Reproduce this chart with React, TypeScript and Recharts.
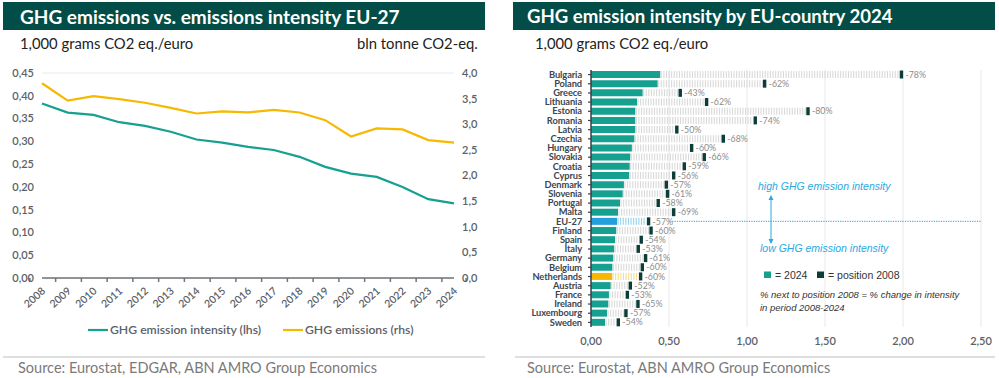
import React from 'react';
import { ComposedChart, Line, XAxis, YAxis, CartesianGrid, BarChart, Bar, Cell, ReferenceLine } from 'recharts';

const years = ['2008', '2009', '2010', '2011', '2012', '2013', '2014', '2015', '2016', '2017', '2018', '2019', '2020', '2021', '2022', '2023', '2024'];
const intensityEU = [0.383, 0.363, 0.358, 0.342, 0.334, 0.321, 0.304, 0.297, 0.288, 0.281, 0.266, 0.244, 0.229, 0.222, 0.2, 0.173, 0.164];
const emissionsEU = [3.8, 3.46, 3.55, 3.49, 3.42, 3.32, 3.21, 3.25, 3.23, 3.28, 3.23, 3.08, 2.76, 2.92, 2.9, 2.69, 2.64];
const leftTicks = [0, 0.05, 0.1, 0.15, 0.2, 0.25, 0.3, 0.35, 0.4, 0.45];
const rightTicks = [0, 0.5, 1, 1.5, 2, 2.5, 3, 3.5, 4];
const seriesNames = ['GHG emission intensity (lhs)', 'GHG emissions (rhs)'];

const countries = ['Bulgaria', 'Poland', 'Greece', 'Lithuania', 'Estonia', 'Romania', 'Latvia', 'Czechia', 'Hungary', 'Slovakia', 'Croatia', 'Cyprus', 'Denmark', 'Slovenia', 'Portugal', 'Malta', 'EU-27', 'Finland', 'Spain', 'Italy', 'Germany', 'Belgium', 'Netherlands', 'Austria', 'France', 'Ireland', 'Luxembourg', 'Sweden'];
const intensity2024 = [0.444, 0.427, 0.331, 0.295, 0.284, 0.284, 0.284, 0.278, 0.262, 0.252, 0.248, 0.245, 0.211, 0.203, 0.186, 0.173, 0.167, 0.162, 0.154, 0.149, 0.143, 0.137, 0.135, 0.126, 0.115, 0.111, 0.103, 0.09];
const intensity2008 = [1.99, 1.113, 0.572, 0.741, 1.391, 1.053, 0.55, 0.848, 0.645, 0.726, 0.598, 0.53, 0.483, 0.491, 0.431, 0.53, 0.369, 0.385, 0.322, 0.303, 0.35, 0.329, 0.318, 0.252, 0.233, 0.301, 0.224, 0.175];
const changeLabels = ['-78%', '-62%', '-43%', '-62%', '-80%', '-74%', '-50%', '-68%', '-60%', '-66%', '-59%', '-56%', '-57%', '-61%', '-58%', '-69%', '-57%', '-60%', '-54%', '-53%', '-61%', '-60%', '-60%', '-52%', '-53%', '-65%', '-57%', '-54%'];
const xTicksRight = [0, 0.5, 1, 1.5, 2, 2.5];

const TEAL = '#16a090';
const YELLOW = '#f6b800';
const BLUE = '#239fdc';
const DARK = '#0c3d39';
const BANNER = '#024d47';
const ANNOT = '#2aa8df';

const fmt2 = (v: number) => v.toFixed(2).replace('.', ',');
const fmt1 = (v: number) => v.toFixed(1).replace('.', ',');

const lineData = years.map((y, i) => ({ year: y, intensity: intensityEU[i], emissions: emissionsEU[i] }));

const barData = countries.map((c, i) => ({
  name: c,
  v2024: intensity2024[i],
  gap: intensity2008[i] - intensity2024[i],
  label: changeLabels[i],
}));

const barColor = (c: string) => (c === 'EU-27' ? BLUE : c === 'Netherlands' ? YELLOW : TEAL);
const stripeColor = (c: string) => (c === 'EU-27' ? '#93d2ee' : c === 'Netherlands' ? '#f5dc8c' : '#d9d9d9');

const LEFT_PLOT_W = 412;
const BW = LEFT_PLOT_W / years.length;

const YearTick = (props: any) => {
  const { x, y, payload, index } = props;
  const axisY = y - 8;
  const tx = x + 4;
  const ty = axisY + 14;
  return (
    <g>
      <line x1={x - BW / 2} x2={x - BW / 2} y1={axisY} y2={axisY + 4} stroke="#6e7479" strokeWidth={1.5} />
      {index === years.length - 1 && (
        <line x1={x + BW / 2} x2={x + BW / 2} y1={axisY} y2={axisY + 4} stroke="#6e7479" strokeWidth={1.5} />
      )}
      <text x={tx} y={ty} textAnchor="end" transform={`rotate(-42 ${tx} ${ty})`} fontSize={10.5} fontWeight={600} fill="#5b6167" fontFamily="Lato">
        {payload.value}
      </text>
    </g>
  );
};

const CountryTick = (props: any) => {
  const { x, y, payload } = props;
  return (
    <text x={x} y={y} dy="0.34em" textAnchor="end" fontSize={9.3} fontWeight={700} fill="#3c4650" fontFamily="Lato" letterSpacing={-0.1}>
      {payload.value}
    </text>
  );
};

const GapShape = (props: any) => {
  const { x, y, width, height, payload } = props;
  const lines: any[] = [];
  const sc = stripeColor(payload.name);
  for (let sx = x + 1; sx < x + width - 2; sx += 2.6) {
    lines.push(<line key={sx} x1={sx} x2={sx} y1={y} y2={y + height} stroke={sc} strokeWidth={1.1} />);
  }
  const mx = x + width;
  return (
    <g>
      {lines}
      <rect x={mx - 1.7} y={y - 0.5} width={3.4} height={height + 1} fill={DARK} />
      <text x={mx + 4} y={y + height / 2} dy="0.36em" fontSize={8.8} fill="#8c8c8c" fontFamily="Lato">
        {payload.label}
      </text>
    </g>
  );
};

const Banner = ({ left, width, text, textLeft, size }: any) => (
  <div style={{ position: 'absolute', left, top: 2, width, height: 28, background: BANNER }}>
    <div style={{ position: 'absolute', left: textLeft, top: 2.5, color: '#fff', fontFamily: 'Lato', fontWeight: 700, fontSize: size, whiteSpace: 'nowrap' }}>
      {text}
    </div>
  </div>
);

const subStyle: any = { position: 'absolute', top: 34, fontFamily: 'Lato', fontSize: 14.8, color: '#222', whiteSpace: 'nowrap' };
const srcStyle: any = { position: 'absolute', top: 359, fontFamily: 'Lato', fontSize: 14.5, color: '#7a7a7a', whiteSpace: 'nowrap' };

export default function App() {
  return (
    <div style={{ position: 'absolute', left: 0, top: 0, width: 999, height: 378, background: '#fff', overflow: 'hidden' }}>
      <Banner left={3} width={482} text="GHG emissions vs. emissions intensity EU-27" textLeft={17} size={19} />
      <Banner left={513} width={482} text="GHG emission intensity by EU-country 2024" textLeft={14} size={18.6} />
      <div style={{ ...subStyle, left: 20 }}>1,000 grams CO2 eq./euro</div>
      <div style={{ ...subStyle, left: 357 }}>bln tonne CO2-eq.</div>
      <div style={{ ...subStyle, left: 535 }}>1,000 grams CO2 eq./euro</div>

      <div style={{ position: 'absolute', left: 0, top: 0 }}>
        <ComposedChart width={500} height={378} data={lineData} margin={{ top: 73, right: 1, bottom: 60, left: 0 }}>
          <CartesianGrid vertical={false} stroke="#e7eaed" strokeWidth={1.2} />
          <XAxis dataKey="year" height={40} interval={0} tickSize={4} tickMargin={4} tickLine={false} axisLine={{ stroke: '#6e7479', strokeWidth: 1.5 }} tick={<YearTick />} />
          <YAxis yAxisId="l" width={42} domain={[0, 0.45]} ticks={leftTicks} tickFormatter={fmt2} axisLine={false} tickLine={false} tick={{ fontSize: 11, fontWeight: 600, fill: '#5b6167', fontFamily: 'Lato' }} />
          <YAxis yAxisId="r" orientation="right" width={45} domain={[0, 4]} ticks={rightTicks} tickFormatter={fmt1} axisLine={false} tickLine={false} tick={{ fontSize: 11, fontWeight: 600, fill: '#5b6167', fontFamily: 'Lato' }} />
          <Line yAxisId="l" dataKey="intensity" name={seriesNames[0]} stroke={TEAL} strokeWidth={2.2} dot={false} isAnimationActive={false} />
          <Line yAxisId="r" dataKey="emissions" name={seriesNames[1]} stroke={YELLOW} strokeWidth={2.2} dot={false} isAnimationActive={false} />
        </ComposedChart>
      </div>

      <div style={{ position: 'absolute', left: 500, top: 0 }}>
        <BarChart width={499} height={378} data={barData} layout="vertical" margin={{ top: 70, right: 18, bottom: 21, left: 0 }} barSize={7}>
          <CartesianGrid horizontal={false} stroke="#e8e8e8" strokeWidth={1} />
          <XAxis type="number" domain={[0, 2.5]} ticks={xTicksRight} tickFormatter={fmt2} height={30} axisLine={false} tickLine={false} tickSize={6} tickMargin={4} tick={{ fontSize: 11, fontWeight: 600, fill: '#5b6167', fontFamily: 'Lato' }} />
          <YAxis type="category" dataKey="name" width={91} interval={0} tickSize={3} tickMargin={6} axisLine={{ stroke: '#3a4148', strokeWidth: 1.5 }} tickLine={{ stroke: '#3a4148', strokeWidth: 1.2 }} tick={<CountryTick />} />
          <ReferenceLine segment={[{ x: 0.52, y: 'EU-27' }, { x: 2.5, y: 'EU-27' }]} stroke="#45b3e3" strokeDasharray="1.2 1.2" strokeWidth={1.2} />
          <Bar dataKey="v2024" stackId="a" isAnimationActive={false}>
            {barData.map((d) => (
              <Cell key={d.name} fill={barColor(d.name)} />
            ))}
          </Bar>
          <Bar dataKey="gap" stackId="a" isAnimationActive={false} shape={<GapShape />} fill="#d9d9d9" />
        </BarChart>
      </div>

      <svg width={999} height={378} style={{ position: 'absolute', left: 0, top: 0, pointerEvents: 'none' }}>
        <line x1={88} x2={108} y1={330} y2={330} stroke={TEAL} strokeWidth={2.2} />
        <text x={110} y={330} dy="0.35em" fontSize={12.2} fontWeight={600} fill="#5b6167" fontFamily="Lato">{seriesNames[0]}</text>
        <line x1={283} x2={303} y1={330} y2={330} stroke={YELLOW} strokeWidth={2.2} />
        <text x={305} y={330} dy="0.35em" fontSize={12.2} fontWeight={600} fill="#5b6167" fontFamily="Lato">{seriesNames[1]}</text>

        <line x1={3} x2={485} y1={357} y2={357} stroke="#bdbdbd" strokeWidth={1} />
        <line x1={515} x2={995} y1={357} y2={357} stroke="#bdbdbd" strokeWidth={1} />

        <text x={758} y={186} dy="0.35em" fontSize={10.5} fontStyle="italic" fill={ANNOT} fontFamily="Liberation Sans">high GHG emission intensity</text>
        <line x1={771} x2={771} y1={199} y2={240} stroke={ANNOT} strokeWidth={1} />
        <polygon points="771,195 768.5,200 773.5,200" fill={ANNOT} />
        <polygon points="771,244 768.5,239 773.5,239" fill={ANNOT} />
        <text x={760} y={248} dy="0.35em" fontSize={10.5} fontStyle="italic" fill={ANNOT} fontFamily="Liberation Sans">low GHG emission intensity</text>

        <rect x={764} y={271.5} width={7} height={6.5} fill={TEAL} />
        <text x={775} y={275} dy="0.35em" fontSize={10.5} fill="#333" fontFamily="Liberation Sans">= 2024</text>
        <rect x={817} y={271.5} width={7} height={6.5} fill={DARK} />
        <text x={828} y={275} dy="0.35em" fontSize={10.5} fill="#333" fontFamily="Liberation Sans">= position 2008</text>
        <text x={760} y={295} dy="0.35em" fontSize={9.5} fontStyle="italic" fill="#333" fontFamily="Liberation Sans">% next to position 2008 = % change in intensity</text>
        <text x={760} y={308} dy="0.35em" fontSize={9.5} fontStyle="italic" fill="#333" fontFamily="Liberation Sans">in period 2008-2024</text>
      </svg>

      <div style={{ ...srcStyle, left: 18 }}>Source: Eurostat, EDGAR, ABN AMRO Group Economics</div>
      <div style={{ ...srcStyle, left: 527 }}>Source: Eurostat, ABN AMRO Group Economics</div>
    </div>
  );
}
